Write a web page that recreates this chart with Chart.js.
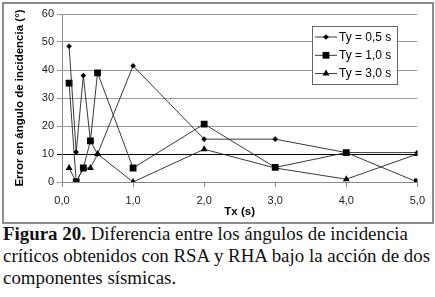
<!DOCTYPE html>
<html>
<head>
<meta charset="utf-8">
<script src="https://cdn.jsdelivr.net/npm/chart.js@4"></script>
<style>
  body { margin: 0; background: #fff; width: 435px; height: 297px; overflow: hidden; position: relative; }
  #frame { position: absolute; left: 2px; top: 2px; width: 428px; height: 218px; border: 2px solid #8c8c8c; }
  #caption { position: absolute; left: 3px; top: 223px; width: 440px; white-space: nowrap; font-family: "Liberation Serif", "Times New Roman", serif; font-size: 18.9px; line-height: 22px; color: #111; }
</style>
</head>
<body>
<div id="frame"><canvas id="chart" width="428" height="218"></canvas></div>
<div id="caption"><b>Figura 20.</b> Diferencia entre los ángulos de incidencia<br>críticos obtenidos con RSA y RHA bajo la acción de dos<br>componentes sísmicas.</div>
<script>
// Tx (s)
const txValues = [0.1, 0.2, 0.3, 0.4, 0.5, 1.0, 2.0, 3.0, 4.0, 5.0];
// Error en ángulo de incidencia (°)
const ty05 = [48.5, 10.7, 38, 14.5, 10, 41.5, 15.3, 15.3, 10.5, 10.5];
const ty10 = [35.3, 0, 5, 14.7, 39, 5, 20.7, 5.2, 10.5, 0];
const ty30 = [5, 0, 5, 5, 10, 0, 11.7, 5, 1, 10];
const seriesLabels = ["Ty = 0,5 s", "Ty = 1,0 s", "Ty = 3,0 s"];
const xTicks = [0, 1, 2, 3, 4, 5];
const yTicks = [0, 10, 20, 30, 40, 50, 60];

const toPoints = ys => ys.map((y, i) => ({ x: txValues[i], y }));

const styles = [
  { pointStyle: "rectRot", pointRadius: 2.8 },
  { pointStyle: "rect", pointRadius: 4.8 },
  { pointStyle: "triangle", pointRadius: 4 }
];

const datasets = [ty05, ty10, ty30].map((ys, i) => ({
  label: seriesLabels[i],
  data: toPoints(ys),
  showLine: true,
  borderColor: "#222",
  borderWidth: 0.9,
  backgroundColor: "#000",
  pointBorderColor: "#000",
  pointBackgroundColor: "#000",
  pointBorderWidth: 0,
  pointStyle: styles[i].pointStyle,
  pointRadius: styles[i].pointRadius,
  pointHoverRadius: styles[i].pointRadius
}));

// Legend box inside the plot
const boxLegend = {
  id: "boxLegend",
  afterDraw(chart) {
    const ctx = chart.ctx;
    const x0 = 308, y0 = 22, w = 85, h = 58;
    ctx.save();
    ctx.fillStyle = "#fff";
    ctx.fillRect(x0, y0, w, h);
    ctx.strokeStyle = "#666";
    ctx.lineWidth = 1;
    ctx.strokeRect(x0 + 0.5, y0 + 0.5, w, h);
    ctx.font = "12px 'Liberation Sans', Arial, sans-serif";
    ctx.textBaseline = "middle";
    chart.data.datasets.forEach((ds, i) => {
      const y = y0 + 11 + i * 18.3;
      ctx.strokeStyle = "#222";
      ctx.lineWidth = 0.9;
      ctx.beginPath();
      ctx.moveTo(x0 + 3, y);
      ctx.lineTo(x0 + 25, y);
      ctx.stroke();
      ctx.fillStyle = "#000";
      Chart.helpers.drawPoint(ctx, { pointStyle: ds.pointStyle, radius: ds.pointRadius, borderWidth: 0 }, x0 + 14, y);
      ctx.fillStyle = "#000";
      ctx.fillText(ds.label, x0 + 27, y + 0.5);
    });
    ctx.restore();
  }
};

new Chart(document.getElementById("chart"), {
  type: "scatter",
  data: { datasets },
  plugins: [boxLegend],
  options: {
    responsive: false,
    animation: false,
    layout: { padding: { top: 10, right: 12, left: 0, bottom: 0 } },
    plugins: { legend: { display: false }, tooltip: { enabled: false } },
    scales: {
      x: {
        type: "linear",
        min: 0,
        max: 5,
        afterFit: s => { s.height = 40; },
        afterBuildTicks: s => { s.ticks = xTicks.map(v => ({ value: v })); },
        border: { color: "#888", width: 1 },
        grid: { drawOnChartArea: false, drawTicks: true, tickLength: 5, color: "#888" },
        ticks: {
          padding: 7,
          color: "#222",
          font: { family: "'Liberation Sans', Arial, sans-serif", size: 11 },
          callback: v => v.toFixed(1).replace(".", ",")
        },
        title: {
          display: true,
          text: "Tx (s)",
          color: "#000",
          padding: { top: 3, bottom: 3 },
          font: { family: "'Liberation Sans', Arial, sans-serif", size: 11.5, weight: "bold" }
        }
      },
      y: {
        min: 0,
        max: 60,
        afterFit: s => { s.width = 58; },
        afterBuildTicks: s => { s.ticks = yTicks.map(v => ({ value: v })); },
        border: { color: "#888", width: 1 },
        grid: {
          drawTicks: true,
          tickLength: 5,
          lineWidth: 1,
          color: c => (c.tick && c.tick.value === 10 ? "#000" : "#999")
        },
        ticks: {
          padding: 3,
          color: "#222",
          font: { family: "'Liberation Sans', Arial, sans-serif", size: 11 }
        },
        title: {
          display: true,
          text: "Error en ángulo de incidencia (°)",
          color: "#000",
          padding: { top: 9, bottom: 0 },
          font: { family: "'Liberation Sans', Arial, sans-serif", size: 11.5, weight: "bold" }
        }
      }
    }
  }
});
</script>
</body>
</html>
